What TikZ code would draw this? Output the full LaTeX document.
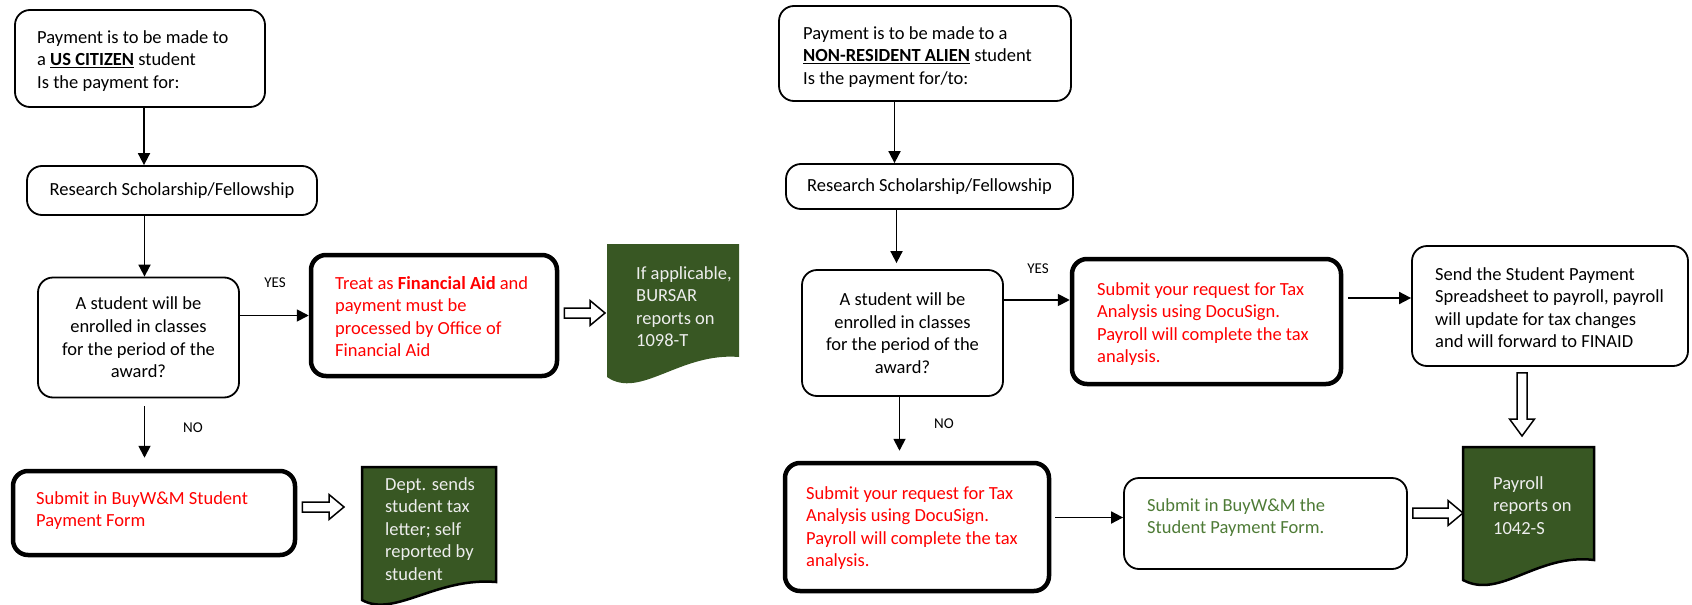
\documentclass[tikz,border=0pt]{standalone}
\usepackage{fontspec}
\setmainfont{Carlito}
\usetikzlibrary{arrows.meta,calc}
\definecolor{docgreen}{HTML}{385723}
\definecolor{txtgreen}{HTML}{4E7B36}
\definecolor{docfg}{HTML}{EDEDED}
\definecolor{myred}{HTML}{FF0000}
\newcommand{\hollowH}[2]{%
  \draw[hollow] let \p1=#1, \p2=#2 in
    (\x1,\y2+5pt) -- (\x2-15pt,\y2+5pt) -- (\x2-15pt,\y2+12.5pt) -- (\x2,\y2)
    -- (\x2-15pt,\y2-12.5pt) -- (\x2-15pt,\y2-5pt) -- (\x1,\y2-5pt) -- cycle;}
\newcommand{\hollowV}[2]{%
  \draw[hollow] let \p1=#1, \p2=#2 in
    (\x2-5pt,\y1) -- (\x2-5pt,\y2+17pt) -- (\x2-12.5pt,\y2+17pt) -- (\x2,\y2)
    -- (\x2+12.5pt,\y2+17pt) -- (\x2+5pt,\y2+17pt) -- (\x2+5pt,\y1) -- cycle;}
\begin{document}
\begin{tikzpicture}[x=1pt,y=-1pt,
  base/.style={font=\fontsize{18.5pt}{22.6pt}\selectfont},
  box/.style={base, draw, line width=1.8pt, rounded corners=15pt, inner sep=0pt},
  tbox/.style={box, line width=4.5pt},
  arr/.style={line width=1.8pt, -{Triangle[length=12pt,width=12pt]}},
  hollow/.style={draw, line width=1.5pt, fill=white, line join=miter},
  lab/.style={font=\fontsize{15pt}{18pt}\selectfont, inner sep=0pt},
  plaintext/.style={base, align=left, inner sep=0pt, anchor=base west},
  doctext/.style={plaintext, text=docfg},
  docb/.style={fill=docgreen, draw=black, line width=2.5pt},
  redt/.style={text=myred}]
\useasboundingbox (0,0) rectangle (1692,605);

% ---------------- left flow ----------------
\node[box, minimum width=250pt, minimum height=97pt] (s1) at (140,58.5) {};
\node[plaintext] (s1t) at (37,88.2)
  {Payment is to be made to\\a \textbf{\underline{US CITIZEN}} student\\Is the payment for:};
\node[box, minimum width=290pt, minimum height=49pt, align=center] (rs1) at (172,190.5)
  {Research Scholarship/Fellowship};
\node[box, minimum width=201pt, minimum height=120pt, align=center] (q1) at (138.5,337.5)
  {A student will be\\enrolled in classes\\for the period of the\\award?};
\node[tbox, minimum width=246pt, minimum height=121pt] (fa) at (434,315.5) {};
\node[plaintext, redt] (fat) at (335,356.8)
  {Treat as \textbf{Financial Aid} and\\payment must be\\processed by Office of\\Financial Aid};
\node[tbox, minimum width=282pt, minimum height=84pt] (sub1) at (154,513) {};
\node[plaintext, redt] (sub1t) at (36,526.6) {Submit in BuyW\&M Student\\Payment Form};

\fill[docgreen] (607,244) -- (739,244) -- (739,357) .. controls (680,352) and (640,400) .. (607,377) -- cycle;
\node[doctext] (d1) at (636,346.8) {If applicable,\\BURSAR\\reports on\\1098-T};
\filldraw[docb] (362,467) -- (496,467) -- (496,582) .. controls (436,577) and (394,618) .. (362,600) -- cycle;
\node[doctext] (d2) at (385,580.4) {Dept. sends\\student tax\\letter; self\\reported by\\student};

\node[lab] (yes1) at (275,283) {YES};
\node[lab] (no1) at (193,428) {NO};

\coordinate (d1in) at (605,313);
\coordinate (d2in) at (344,507);

\draw[arr] ($(s1.south)+(4,0)$) -- ($(s1.south |- rs1.north)+(4,0)$);
\draw[arr] ($(q1.north |- rs1.south)+(6,0)$) -- ($(q1.north)+(6,0)$);
\draw[arr] (q1.east |- fa.west) -- (fa.west);
\draw[arr] ($(q1.south)+(6,8)$) -- ($(q1.south |- sub1.north)+(6,-11)$);
\hollowH{($(fa.east)+(5,0)$)}{(d1in)}
\hollowH{($(sub1.east)+(5,0)$)}{(d2in)}

% ---------------- right flow ----------------
\node[box, minimum width=292pt, minimum height=95pt] (s2) at (925,53.5) {};
\node[plaintext] (s2t) at (803,84.2)
  {Payment is to be made to a\\\textbf{\underline{NON-RESIDENT ALIEN}} student\\Is the payment for/to:};
\node[box, minimum width=287pt, minimum height=45pt, align=center] (rs2) at (929.5,186.5)
  {Research Scholarship/Fellowship};
\node[box, minimum width=201pt, minimum height=126pt, align=center] (q2) at (902.5,333)
  {A student will be\\enrolled in classes\\for the period of the\\award?};
\node[tbox, minimum width=269pt, minimum height=125pt] (r3) at (1206.5,321.5) {};
\node[plaintext, redt] (r3t) at (1097,362.8)
  {Submit your request for Tax\\Analysis using DocuSign.\\Payroll will complete the tax\\analysis.};
\node[box, minimum width=276pt, minimum height=120pt] (r4) at (1550,306) {};
\node[plaintext] (r4t) at (1435,347.8)
  {Send the Student Payment\\Spreadsheet to payroll, payroll\\will update for tax changes\\and will forward to FINAID};
\node[tbox, minimum width=264pt, minimum height=128pt] (r5) at (917,527) {};
\node[plaintext, redt] (r5t) at (806,566.8)
  {Submit your request for Tax\\Analysis using DocuSign.\\Payroll will complete the tax\\analysis.};
\node[box, minimum width=283pt, minimum height=91pt] (r6) at (1265.5,523.5) {};
\node[plaintext, text=txtgreen] (r6t) at (1147,533.6) {Submit in BuyW\&M the\\Student Payment Form.};

\filldraw[docb] (1463,447) -- (1594,447) -- (1594,560) .. controls (1537,553) and (1500,600) .. (1463,580) -- cycle;
\node[doctext] (d3) at (1493,534.2) {Payroll\\reports on\\1042-S};

\node[lab] (yes2) at (1038,269) {YES};
\node[lab] (no2) at (944,424) {NO};

\coordinate (d3in) at (1463,513);
\coordinate (d3top) at (1522,436);

\draw[arr] ($(s2.south -| q2.north)+(-8,0)$) -- ($(rs2.north -| q2.north)+(-8,0)$);
\draw[arr] ($(rs2.south -| q2.north)+(-6,0)$) -- ($(q2.north)+(-6,-6)$);
\draw[arr] ($(q2.east |- r3.west)+(0,-21.5)$) -- ($(r3.west)+(0,-21.5)$);
\draw[arr] ($(r3.east |- r4.west)+(5,-8)$) -- ($(r4.west)+(0,-8)$);
\draw[arr] ($(q2.south)+(-3,0)$) -- ($(q2.south |- r5.north)+(-3,-10)$);
\draw[arr] ($(r5.east |- r6.west)+(4,-6)$) -- ($(r6.west)+(0,-6)$);
\hollowV{($(r4.south)+(0,6)$)}{(d3top)}
\hollowH{($(r6.east)+(5,0)$)}{(d3in)}
\end{tikzpicture}
\end{document}
